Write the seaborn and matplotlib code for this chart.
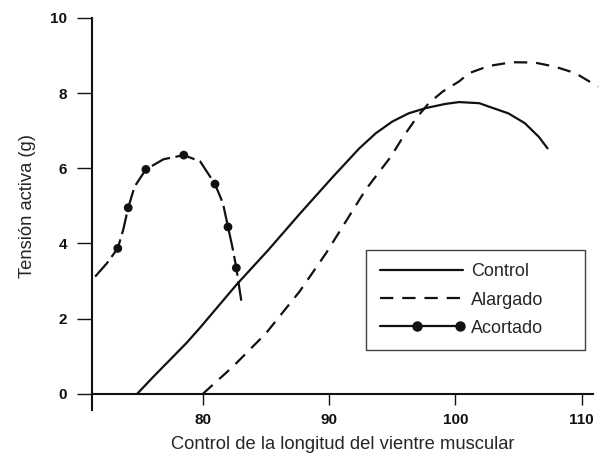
import numpy as np
import pandas as pd
import matplotlib
matplotlib.use("Agg")
import matplotlib.pyplot as plt
from matplotlib.lines import Line2D
from matplotlib.legend_handler import HandlerBase
import seaborn as sns

# Curve traces (length, active tension in g)
control_x = [74.8, 76.1, 78.7, 79.76, 82.66, 85.2, 87.66, 90.3, 92.4, 93.7, 95.0, 96.3,
             97.66, 99.2, 100.3, 101.9, 102.65, 104.2, 105.5, 106.6, 107.3]
control_y = [0.0, 0.46, 1.35, 1.75, 2.9, 3.83, 4.78, 5.77, 6.53, 6.93, 7.24, 7.46,
             7.6, 7.71, 7.76, 7.73, 7.64, 7.46, 7.2, 6.84, 6.53]

alargado_x = [80.0, 82.4, 85.0, 87.66, 89.76, 92.9, 94.9, 95.8, 96.9, 97.9, 99.0,
              100.3, 101.1, 102.65, 104.5, 106.3, 107.9, 109.5, 111.3]
alargado_y = [0.0, 0.73, 1.61, 2.72, 3.74, 5.43, 6.31, 6.8, 7.33, 7.73, 8.04,
              8.31, 8.53, 8.72, 8.82, 8.81, 8.7, 8.53, 8.17]

acortado_x = [71.48, 72.4, 73.27, 73.7, 74.1, 74.6, 75.5, 76.9, 78.5, 79.8, 80.97, 81.6, 82.0, 82.34, 82.66, 83.05]
acortado_y = [3.12, 3.47, 3.87, 4.36, 4.95, 5.51, 5.97, 6.24, 6.35, 6.18, 5.58, 5.07, 4.44, 3.92, 3.35, 2.48]

# Measured points on the shortened muscle curve
puntos_x = [73.27, 74.1, 75.5, 78.5, 80.97, 82.0, 82.66]
puntos_y = [3.87, 4.95, 5.97, 6.35, 5.58, 4.44, 3.35]

x_ticks = [80, 90, 100, 110]
y_ticks = [0, 2, 4, 6, 8, 10]

sns.set_style("ticks")
plt.rcParams['font.family'] = ['Liberation Sans', 'DejaVu Sans']

control = pd.DataFrame({"x": control_x, "y": control_y})
alargado = pd.DataFrame({"x": alargado_x, "y": alargado_y})
acortado = pd.DataFrame({"x": acortado_x, "y": acortado_y})
puntos = pd.DataFrame({"x": puntos_x, "y": puntos_y})

ink = "#111111"
dash_alargado = (0, (6, 4))
dash_acortado = (0, (9, 2.5))

fig = plt.figure(figsize=(6.02, 4.57), dpi=100)
ax = fig.add_axes([0.153, 0.138, 0.832, 0.823])

sns.lineplot(data=control, x="x", y="y", ax=ax, color=ink, lw=1.6,
             sort=False, estimator=None)
sns.lineplot(data=alargado, x="x", y="y", ax=ax, color=ink, lw=1.6,
             sort=False, estimator=None, linestyle=dash_alargado, clip_on=False)
sns.lineplot(data=acortado, x="x", y="y", ax=ax, color=ink, lw=1.6,
             sort=False, estimator=None, linestyle=dash_acortado)
sns.scatterplot(data=puntos, x="x", y="y", ax=ax, color=ink, s=40,
                edgecolor="none", zorder=5)

ax.set_xlim(71.24, 110.9)
ax.set_ylim(0, 10)
ax.set_xticks(x_ticks)
ax.set_yticks(y_ticks)
ax.set_xticklabels([str(t) for t in x_ticks], fontweight="bold", fontsize=11)
ax.set_yticklabels([str(t) for t in y_ticks], fontweight="bold", fontsize=11)
ax.tick_params(axis="x", length=8, width=1.0, pad=6, colors=ink)
ax.tick_params(axis="y", length=11, width=1.0, pad=7, colors=ink)

for side in ["top", "right"]:
    ax.spines[side].set_visible(False)
for side in ["left", "bottom"]:
    ax.spines[side].set_linewidth(1.5)
    ax.spines[side].set_color(ink)
ax.spines["left"].set_bounds(-0.42, 10)

ax.set_xlabel("Control de la longitud del vientre muscular", fontsize=13.2, labelpad=6)
ax.set_ylabel("Tensión activa (g)", fontsize=13.2, labelpad=10)


class MidEndHandler(HandlerBase):
    # solid line with dots at the middle and at the end
    def create_artists(self, legend, orig_handle, xdescent, ydescent,
                       width, height, fontsize, trans):
        y = height / 2 - ydescent
        x0, x1 = -xdescent, width - xdescent
        line = Line2D([x0, x1], [y, y], color=ink, lw=1.6)
        dots = Line2D([(x0 + x1) / 2 - 3, x1 - 2], [y, y], ls="none", marker="o",
                      markersize=6.5, color=ink)
        line.set_transform(trans)
        dots.set_transform(trans)
        return [line, dots]


h_control = Line2D([], [], color=ink, lw=1.6)
h_alargado = Line2D([], [], color=ink, lw=1.6, linestyle=dash_alargado)
h_acortado = Line2D([], [], color=ink, lw=1.6, marker="o")

leg = ax.legend([h_control, h_alargado, h_acortado], ["Control", "Alargado", "Acortado"],
                loc="upper left", bbox_to_anchor=(0.547, 0.0, 0.437, 0.383), mode="expand",
                borderaxespad=0, fontsize=13, handlelength=4.6, handletextpad=0.45,
                labelspacing=0.62, borderpad=0.75, frameon=True, fancybox=False,
                handler_map={h_acortado: MidEndHandler()})
leg.get_frame().set_edgecolor(ink)
leg.get_frame().set_linewidth(1.0)

plt.savefig("out.png", dpi=100)
